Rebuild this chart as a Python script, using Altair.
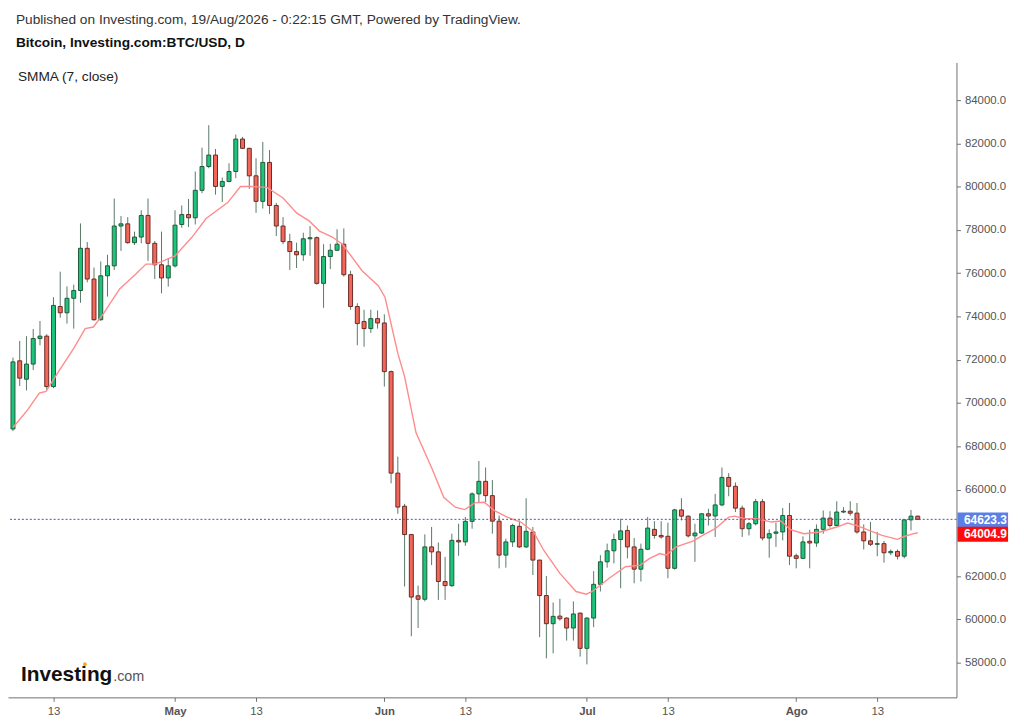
import json
import altair as alt
import pandas as pd

# ---------------- data ----------------
start_date = "2026-04-07"

opens = [68800, 71950, 71100, 71800, 72980, 73090, 70760, 74460, 74170, 74840,
         75200, 77150, 75730, 73850, 75880, 76340, 78180, 78280, 77410, 77670,
         78670, 77380, 76390, 75780, 76340, 78250, 78710, 78560, 79830, 80930,
         81460, 80010, 80240, 80700, 82200, 81770, 80500, 79320, 81120, 79130,
         78180, 77460, 77000, 76850, 77590, 77640, 75530, 76770, 77060, 77340,
         75930, 74460, 73770, 73440, 73900, 73700, 71450, 66760, 65230, 63920,
         61090, 60930, 63350, 63120, 61750, 61560, 63650, 63580, 64530, 65800,
         66380, 65720, 64540, 62970, 63580, 64300, 63350, 64040, 62740, 61100,
         59800, 60150, 60060, 59600, 60290, 58660, 60060, 61620, 62660, 63170,
         63690, 64110, 63350, 62320, 63240, 64160, 63880, 63840, 62360, 65060,
         64770, 63860, 63990, 64880, 64780, 65290, 66560, 66150, 65140, 64190,
         64420, 65440, 63760, 63980, 64040, 64800, 62940, 62820, 63610, 63530,
         64160, 64680, 64340, 64960, 65000, 64910, 64040, 63630, 63470, 63500,
         63080, 63140, 62920, 64600, 64770]
highs = [72100, 72870, 73090, 73420, 73790, 73180, 74890, 76070, 75390, 75470,
         78300, 77440, 76260, 76540, 76850, 79450, 78640, 78590, 77920, 78910,
         79450, 77490, 77920, 76700, 78910, 79130, 79430, 80700, 81800, 82840,
         81740, 80420, 81080, 82410, 82300, 81800, 81310, 82070, 81690, 79250,
         78590, 77820, 77410, 77870, 78180, 77700, 77340, 77360, 78030, 78070,
         76110, 74610, 74310, 74310, 74280, 74100, 71500, 67520, 65340, 63950,
         61560, 63930, 64270, 63550, 62890, 63960, 64420, 64730, 65870, 67320,
         67020, 66440, 64800, 63730, 64420, 64570, 65600, 64270, 62750, 62000,
         60780, 60950, 60100, 60830, 60300, 60100, 62230, 62970, 63500, 63960,
         64650, 64340, 63760, 63500, 64730, 64540, 64540, 64470, 65110, 65600,
         64800, 64420, 64900, 65110, 65800, 67020, 66760, 66330, 65260, 64500,
         65570, 65570, 64160, 64470, 65150, 65380, 63040, 63840, 64140, 64390,
         65030, 65000, 65460, 65190, 65460, 65380, 64390, 64500, 64040, 63630,
         63230, 63230, 64620, 65060, 64800]
lows = [68700, 70790, 70580, 71530, 72670, 70610, 70690, 73940, 73670, 73440,
        74630, 75580, 73800, 73800, 74920, 76150, 77030, 77360, 77300, 77380,
        76570, 75730, 75070, 75380, 76260, 78100, 78130, 78250, 79700, 80850,
        79630, 79290, 80200, 80390, 81750, 79900, 78790, 78990, 78740, 77720,
        77340, 76150, 76240, 76570, 76800, 75470, 74400, 76190, 77030, 75840,
        74310, 72670, 72600, 73240, 73440, 70760, 66290, 64880, 61520, 59220,
        59600, 60830, 62510, 60900, 60900, 61500, 62940, 63400, 64190, 65420,
        65420, 63960, 62360, 62390, 63350, 63300, 63300, 62050, 59180, 58200,
        58430, 59940, 59020, 59020, 58280, 57920, 59640, 61290, 62390, 62590,
        61440, 62820, 61670, 61750, 63200, 63730, 63730, 61900, 62300, 64570,
        63780, 62660, 63950, 64340, 63810, 65230, 65690, 64960, 63810, 63880,
        64340, 63650, 62850, 63350, 63650, 62510, 62360, 62800, 62360, 63350,
        63960, 64240, 64300, 64910, 64800, 63960, 63230, 63390, 62920, 62620,
        62970, 62770, 62820, 64110, 64600]
closes = [71900, 71150, 71800, 72980, 73090, 70760, 74510, 74170, 74840, 75200,
          77150, 75730, 73850, 75880, 76340, 78180, 78280, 77410, 77670, 78670,
          77380, 76390, 75780, 76340, 78220, 78710, 78560, 79830, 80930, 81460,
          80010, 80240, 80700, 82200, 81770, 80500, 79320, 81120, 79130, 78180,
          77460, 77000, 76850, 77590, 77640, 75530, 76770, 77060, 77340, 75930,
          74460, 73670, 73440, 73900, 73700, 71450, 66760, 65190, 63920, 61030,
          60930, 63350, 63120, 61750, 61560, 63650, 63580, 64530, 65800, 66380,
          65720, 64540, 62970, 63580, 64340, 63350, 64070, 62740, 61100, 59800,
          60140, 60030, 59600, 60250, 58660, 60060, 61620, 62660, 63170, 63690,
          64090, 63350, 62320, 63240, 64220, 63880, 63810, 62360, 65060, 64770,
          63860, 63990, 64880, 64780, 65290, 66560, 66150, 65140, 64190, 64420,
          65440, 63760, 63960, 64040, 64800, 62920, 62820, 63580, 63530, 64160,
          64680, 64340, 64960, 65000, 64910, 64040, 63630, 63470, 63500, 63080,
          63140, 62920, 64600, 64770, 64623.3]

# SMMA (7, close) line, read at points along the curve (candle number, value)
smma_candle = [1, 3.2, 4.9, 5.9, 7.6, 10, 11.7, 12.9, 14.4, 16.8, 19.2, 20.7,
               22.1, 25, 27.5, 29.6, 32.8, 34.7, 36.2, 38.6, 41, 43, 44.9, 46.4,
               48.3, 49.8, 52.7, 55.1, 56.1, 58, 59, 60.7, 63.1, 64.8, 66.5,
               67.9, 69.4, 70.8, 72.3, 74.2, 76.2, 78.1, 79.6, 82, 84.4, 85.9,
               86.8, 89.3, 91.7, 93.9, 95.3, 96.8, 97.7, 99.2, 101.6, 103.6,
               105, 107, 107.9, 109.4, 111.3, 113.3, 114.7, 116.2, 118.1, 120.5,
               123, 124.6, 125.9, 127.8, 129.7, 132, 133, 134, 135]
smma_value = [68870, 69693, 70459, 70532, 71376, 72522, 73439, 73513, 74127,
              75273, 75961, 76419, 76419, 76801, 77659, 78529, 79264, 80005,
              80010, 79964, 79474, 78786, 78405, 77947, 77672, 77337, 76113,
              75425, 74888, 72293, 71220, 68624, 66942, 65644, 65185, 65075,
              65383, 65415, 65030, 64727, 64498, 64039, 63195, 62127, 61288,
              61164, 61288, 61898, 62434, 62508, 62815, 63044, 62966, 63351,
              63608, 63961, 64190, 64727, 64773, 64649, 64649, 64498, 64544,
              64145, 63961, 64039, 64268, 64452, 64342, 64112, 63883, 63700,
              63830, 63930, 64005]

tick_dates = ["2026-04-13", "2026-05-01", "2026-05-13", "2026-06-01", "2026-06-13",
              "2026-07-01", "2026-07-13", "2026-08-01", "2026-08-13"]
tick_labels = ["13", "May", "13", "Jun", "13", "Jul", "13", "Ago", "13"]
month_ticks = ["May", "Jun", "Jul", "Ago"]

# 64000.0 is hidden behind the SMMA value label in the reference
price_ticks = [58000, 60000, 62000, 66000, 68000, 70000, 72000, 74000,
               76000, 78000, 80000, 82000, 84000]

last_price = 64623.3
smma_last = 64004.9

title_line1 = "Published on Investing.com, 19/Aug/2026 - 0:22:15 GMT, Powered by TradingView."
title_line2 = "Bitcoin, Investing.com:BTC/USD, D"
indicator_label = "SMMA (7, close)"

# ---------------- tables ----------------
t0 = pd.Timestamp(start_date)
n = len(opens)
candles = pd.DataFrame({
    "day": list(range(n)),
    "open": opens, "high": highs, "low": lows, "close": closes,
})
candles["dir"] = ["up" if c >= o else "down" for o, c in zip(opens, closes)]

smma = pd.DataFrame({"day": [c - 1 for c in smma_candle], "v": smma_value})

tick_days = [(pd.Timestamp(d) - t0).days for d in tick_dates]
month_days = [tick_days[tick_labels.index(m)] for m in month_ticks]

one = pd.DataFrame({"k": [0]})  # single row for annotations

FONT = "Liberation Sans"
GREEN, RED = "#1cc47c", "#f3675b"
GREEN_EDGE, RED_EDGE = "#1f5a3a", "#6a2a24"
WICK = "#5a7868"
AXIS_GRAY = "#6f6f6f"

x_scale = alt.Scale(domain=[0, 139], nice=False, zero=False)
y_scale = alt.Scale(domain=[56395, 85742], nice=False, zero=False)

label_expr = f"{json.dumps(tick_labels)}[indexof({json.dumps(tick_days)}, datum.value)]"

x_axis = alt.Axis(
    orient="bottom", values=tick_days, labelExpr=label_expr, title=None, grid=False,
    domainColor=AXIS_GRAY, tickColor=AXIS_GRAY, tickSize=4,
    labelColor="#555555", labelFontSize=11.5, labelFont=FONT, labelPadding=4,
    labelOverlap=False, labelFlush=False,
    labelFontWeight={"condition": {"test": f"indexof({json.dumps(month_days)}, datum.value) >= 0",
                                   "value": "bold"}, "value": "normal"},
)
y_axis = alt.Axis(
    orient="right", values=price_ticks, format=".1f", title=None, grid=False,
    domainColor=AXIS_GRAY, tickColor=AXIS_GRAY, tickSize=4,
    labelColor="#555555", labelFontSize=11.5, labelFont=FONT, labelPadding=4,
    labelOverlap=False, labelFlush=False,
)

base = alt.Chart(candles)

wicks = base.mark_rule(color=WICK, strokeWidth=1, clip=True).encode(
    x=alt.X("day:Q", scale=x_scale, axis=x_axis),
    y=alt.Y("low:Q", scale=y_scale, axis=y_axis),
    y2="high:Q",
)

bodies = base.mark_bar(size=4, strokeWidth=1, clip=True).encode(
    x=alt.X("day:Q", scale=x_scale, axis=x_axis),
    y=alt.Y("open:Q", scale=y_scale, axis=y_axis),
    y2="close:Q",
    fill=alt.Fill("dir:N", scale=alt.Scale(domain=["up", "down"], range=[GREEN, RED]), legend=None),
    stroke=alt.Stroke("dir:N", scale=alt.Scale(domain=["up", "down"], range=[GREEN_EDGE, RED_EDGE]), legend=None),
)

smma_line = alt.Chart(smma).mark_line(color="#ff8c8c", strokeWidth=1.4, clip=True).encode(
    x=alt.X("day:Q", scale=x_scale, axis=x_axis),
    y=alt.Y("v:Q", scale=y_scale, axis=y_axis),
)

ann = alt.Chart(one)

last_line = ann.mark_rule(color="#3a58dc", strokeWidth=1, strokeDash=[2, 2]).encode(
    y=alt.Y(datum=last_price, scale=y_scale, axis=y_axis),
)

box_blue = ann.mark_rect(color="#5a7fe6", yOffset=-7, y2Offset=8).encode(
    x=alt.value(957), x2=alt.value(1008),
    y=alt.Y(datum=last_price, scale=y_scale, axis=y_axis),
    y2=alt.Y2(datum=last_price),
)
box_red = ann.mark_rect(color="#ff0a0a", yOffset=-6, y2Offset=9).encode(
    x=alt.value(957), x2=alt.value(1008),
    y=alt.Y(datum=smma_last, scale=y_scale, axis=y_axis),
    y2=alt.Y2(datum=smma_last),
)
txt_blue = ann.mark_text(
    color="white", font=FONT, fontSize=12, fontWeight="bold", align="left", baseline="middle", dy=0.5
).encode(
    x=alt.value(963.5), y=alt.Y(datum=last_price, scale=y_scale, axis=y_axis),
    text=alt.value(f"{last_price:.1f}"),
)
txt_red = ann.mark_text(
    color="white", font=FONT, fontSize=12, fontWeight="bold", align="left", baseline="middle", dy=1.5
).encode(
    x=alt.value(963.5), y=alt.Y(datum=smma_last, scale=y_scale, axis=y_axis),
    text=alt.value(f"{smma_last:.1f}"),
)


def label(text, x, y, size, weight="normal", color="#222222"):
    return ann.mark_text(
        font=FONT, fontSize=size, fontWeight=weight, color=color,
        align="left", baseline="middle"
    ).encode(x=alt.value(x), y=alt.value(y), text=alt.value(text))


head1 = label(title_line1, 8, -43, 13.8, color="#333333")
head2 = label(title_line2, 8, -20, 13.8, weight="bold", color="#111111")
ind = label(indicator_label, 10, 15, 13.8, color="#222222")
logo1 = label("Investing", 13, 617, 21, weight="bold", color="#111111")
logo2 = label(".com", 106, 619, 14.5, color="#555555")
logo_dot = ann.mark_circle(color="#f5a623", size=14, opacity=1).encode(
    x=alt.value(77.5), y=alt.value(606.5)
)

chart = alt.layer(
    wicks, bodies, smma_line, last_line,
    box_blue, box_red, txt_blue, txt_red,
    head1, head2, ind, logo1, logo2, logo_dot,
).properties(
    width=956, height=640,
    padding={"left": 0, "top": 52, "right": 60, "bottom": 25},
    autosize=alt.AutoSizeParams(type="none"),
).configure(font=FONT, background="white").configure_view(stroke=None)

chart.save("out.html", embed_options={"renderer": "svg", "actions": False})
